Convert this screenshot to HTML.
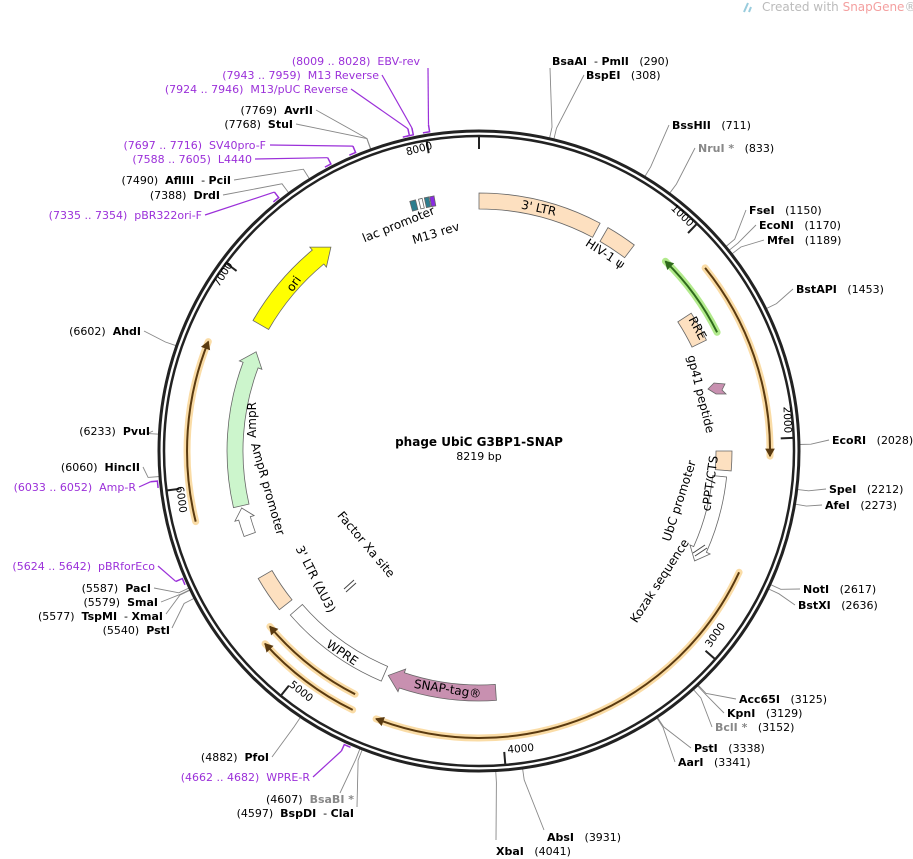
<!DOCTYPE html>
<html><head><meta charset="utf-8"><style>
html,body{margin:0;padding:0;background:#fff;width:913px;height:859px;overflow:hidden}
svg{display:block;font-family:"DejaVu Sans","Liberation Sans",sans-serif;font-size:11px}
text{white-space:pre}
.b{font-weight:bold}
.p{fill:#9b30d9}
.g{fill:#888}
</style></head><body>
<svg id="s" width="913" height="859" viewBox="0 0 913 859" xmlns="http://www.w3.org/2000/svg" xml:space="preserve">
<g id="geo"></g>
<text x="762" y="11" font-size="12" fill="#bbb">Created with <tspan fill="#f4a0a0">SnapGene</tspan>®</text>
<path d="M744 12 l4 -9 M749 12 l2 -5" stroke="#9cd" stroke-width="2"/>

<text x="479" y="446" text-anchor="middle" class="b" font-size="12">phage UbiC G3BP1-SNAP</text>
<text x="479" y="460" text-anchor="middle" font-size="11">8219 bp</text>

<polygon points="708,389 714,383 725,384 722,390 726,394 716,394" fill="#c890b0" stroke="#666" stroke-width="0.8"/>

<g>
<text x="552" y="65"><tspan class="b">BsaAI</tspan>  - <tspan class="b">PmlI</tspan>   (290)</text>
<text x="586" y="79"><tspan class="b">BspEI</tspan>   (308)</text>
<text x="672" y="129"><tspan class="b">BssHII</tspan>   (711)</text>
<text x="698" y="152"><tspan class="b g">NruI *</tspan>   (833)</text>
<text x="749" y="214"><tspan class="b">FseI</tspan>   (1150)</text>
<text x="759" y="229"><tspan class="b">EcoNI</tspan>   (1170)</text>
<text x="767" y="244"><tspan class="b">MfeI</tspan>   (1189)</text>
<text x="796" y="293"><tspan class="b">BstAPI</tspan>   (1453)</text>
<text x="832" y="444"><tspan class="b">EcoRI</tspan>   (2028)</text>
<text x="829" y="493"><tspan class="b">SpeI</tspan>   (2212)</text>
<text x="825" y="509"><tspan class="b">AfeI</tspan>   (2273)</text>
<text x="803" y="593"><tspan class="b">NotI</tspan>   (2617)</text>
<text x="798" y="609"><tspan class="b">BstXI</tspan>   (2636)</text>
<text x="739" y="703"><tspan class="b">Acc65I</tspan>   (3125)</text>
<text x="727" y="717"><tspan class="b">KpnI</tspan>   (3129)</text>
<text x="715" y="731"><tspan class="b g">BclI *</tspan>   (3152)</text>
<text x="694" y="752"><tspan class="b">PstI</tspan>   (3338)</text>
<text x="678" y="766"><tspan class="b">AarI</tspan>   (3341)</text>
<text x="547" y="841"><tspan class="b">AbsI</tspan>   (3931)</text>
<text x="496" y="855"><tspan class="b">XbaI</tspan>   (4041)</text>
</g>
<g text-anchor="end">
<text x="354" y="803">(4607)  <tspan class="b g">BsaBI *</tspan></text>
<text x="354" y="817">(4597)  <tspan class="b">BspDI</tspan>  - <tspan class="b">ClaI</tspan></text>
<text x="310" y="781" class="p">(4662 .. 4682)  WPRE-R</text>
<text x="269" y="761">(4882)  <tspan class="b">PfoI</tspan></text>
<text x="170" y="634">(5540)  <tspan class="b">PstI</tspan></text>
<text x="163" y="620">(5577)  <tspan class="b">TspMI</tspan>  - <tspan class="b">XmaI</tspan></text>
<text x="158" y="606">(5579)  <tspan class="b">SmaI</tspan></text>
<text x="151" y="592">(5587)  <tspan class="b">PacI</tspan></text>
<text x="155" y="570" class="p">(5624 .. 5642)  pBRforEco</text>
<text x="136" y="491" class="p">(6033 .. 6052)  Amp-R</text>
<text x="140" y="471">(6060)  <tspan class="b">HincII</tspan></text>
<text x="150" y="435">(6233)  <tspan class="b">PvuI</tspan></text>
<text x="141" y="335">(6602)  <tspan class="b">AhdI</tspan></text>
<text x="202" y="219" class="p">(7335 .. 7354)  pBR322ori-F</text>
<text x="220" y="199">(7388)  <tspan class="b">DrdI</tspan></text>
<text x="231" y="184">(7490)  <tspan class="b">AflIII</tspan>  - <tspan class="b">PciI</tspan></text>
<text x="252" y="163" class="p">(7588 .. 7605)  L4440</text>
<text x="266" y="149" class="p">(7697 .. 7716)  SV40pro-F</text>
<text x="293" y="128">(7768)  <tspan class="b">StuI</tspan></text>
<text x="313" y="114">(7769)  <tspan class="b">AvrII</tspan></text>
<text x="348" y="93" class="p">(7924 .. 7946)  M13/pUC Reverse</text>
<text x="379" y="79" class="p">(7943 .. 7959)  M13 Reverse</text>
<text x="420" y="65" class="p">(8009 .. 8028)  EBV-rev</text>
</g>

<g font-size="10.5">
<text transform="translate(420,152) rotate(-15)" text-anchor="middle">8000</text>
<text transform="translate(680,218) rotate(44)" text-anchor="middle">1000</text>
<text transform="translate(784,420) rotate(88)" text-anchor="middle">2000</text>
<text transform="translate(718,637) rotate(-55)" text-anchor="middle">3000</text>
<text transform="translate(521,752) rotate(-5)" text-anchor="middle">4000</text>
<text transform="translate(299,694) rotate(38)" text-anchor="middle">5000</text>
<text transform="translate(178,500) rotate(82)" text-anchor="middle">6000</text>
<text transform="translate(226,276) rotate(-58)" text-anchor="middle">7000</text>
</g>

<g font-size="12">
<text transform="translate(538,212) rotate(12)" text-anchor="middle">3' LTR</text>
<text transform="translate(603,257) rotate(33)" text-anchor="middle">HIV-1 ψ</text>
<text transform="translate(400,228) rotate(-22)" text-anchor="middle">lac promoter</text>
<text transform="translate(437,237) rotate(-17)" text-anchor="middle">M13 rev</text>
<text transform="translate(297,286) rotate(-55)" text-anchor="middle">ori</text>
<text transform="translate(694,330) rotate(62)" text-anchor="middle">RRE</text>
<text transform="translate(697,395) rotate(76)" text-anchor="middle">gp41 peptide</text>
<text transform="translate(714,484) rotate(-82)" text-anchor="middle">cPPT/CTS</text>
<text transform="translate(683,502) rotate(-72)" text-anchor="middle">UbC promoter</text>
<text transform="translate(663,583) rotate(-57)" text-anchor="middle">Kozak sequence</text>
<text transform="translate(447,693) rotate(9)" text-anchor="middle">SNAP-tag®</text>
<text transform="translate(340,656) rotate(34)" text-anchor="middle">WPRE</text>
<text transform="translate(312,581) rotate(63)" text-anchor="middle">3' LTR (ΔU3)</text>
<text transform="translate(363,547) rotate(50)" text-anchor="middle">Factor Xa site</text>
<text transform="translate(264,490) rotate(74)" text-anchor="middle">AmpR promoter</text>
<text transform="translate(256,420) rotate(-90)" text-anchor="middle">AmpR</text>
</g>
</svg>
<script>
var NS="http://www.w3.org/2000/svg",G=document.getElementById("geo"),CX=479,CY=451,N=8219;
function P(r,a){a=a*Math.PI/180;return [CX+r*Math.sin(a),CY-r*Math.cos(a)];}
function el(t,at){var e=document.createElementNS(NS,t);for(var k in at)e.setAttribute(k,at[k]);G.appendChild(e);return e;}
function s(p){return p[0].toFixed(1)+" "+p[1].toFixed(1);}
function arcD(r,a1,a2){var l=Math.abs(a2-a1)>180?1:0,sw=a2>a1?1:0;return "A"+r+" "+r+" 0 "+l+" "+sw+" "+s(P(r,a2));}
function sector(r,w,a1,a2,arrow,fill,stroke){
 var ro=r+w/2,ri=r-w/2,h=(w*0.9)/r*180/Math.PI,d;
 if(arrow==1){var b=a2-h;d="M"+s(P(ro,a1))+arcD(ro,a1,b)+"L"+s(P(ro+4,b))+"L"+s(P(r,a2))+"L"+s(P(ri-4,b))+"L"+s(P(ri,b))+arcD(ri,b,a1)+"Z";}
 else if(arrow==-1){var b=a1+h;d="M"+s(P(ro,b))+arcD(ro,b,a2)+"L"+s(P(ri,a2))+arcD(ri,a2,b)+"L"+s(P(ri-4,b))+"L"+s(P(r,a1))+"L"+s(P(ro+4,b))+"Z";}
 else d="M"+s(P(ro,a1))+arcD(ro,a1,a2)+"L"+s(P(ri,a2))+arcD(ri,a2,a1)+"Z";
 el("path",{d:d,fill:fill,stroke:stroke||"#666","stroke-width":0.8});
}
function thin(r,a1,a2,dir,glow,col){
 var en=dir==1?a2:a1,d="M"+s(P(r,a1))+arcD(r,a1,a2);
 el("path",{d:d,fill:"none",stroke:glow,"stroke-width":7,"stroke-opacity":0.6,"stroke-linecap":"round"});
 el("path",{d:d,fill:"none",stroke:col,"stroke-width":2});
 var h=7/r*180/Math.PI*(dir==1?-1:1);
 el("path",{d:"M"+s(P(r+4,en+h))+"L"+s(P(r,en))+"L"+s(P(r-4,en+h))+"Z",fill:col,stroke:col,"stroke-width":1});
}
function deg(bp){return bp/N*360;}
function site(bp,x,y,col){var a=deg(bp),p1=P(320,a),p2=P(332,a);
 el("polyline",{points:s(p1)+" "+s(p2)+" "+x+" "+y,fill:"none",stroke:col||"#888","stroke-width":0.9});}
function primer(bp,x,y){var a=deg(bp),p2=P(330,a);
 el("polyline",{points:s(p2)+" "+x+" "+y,fill:"none",stroke:"#9b30d9","stroke-width":1.2});
 el("path",{d:"M"+s(P(323,a-1.2))+"L"+s(P(323,a))+"L"+s(P(330,a)),fill:"none",stroke:"#9b30d9","stroke-width":1.5});}
var R=[[290,550,68],[308,584,75],[711,669,125],[833,695,148],[1150,746,210],[1170,756,225],[1189,764,240],[1453,793,289],[2028,829,440],[2212,826,489],[2273,822,505],[2617,800,589],[2636,795,605],[3125,736,699],[3129,724,713],[3152,712,727],[3338,691,748],[3341,675,762],[3931,544,830],[4041,496,840]];
R.forEach(function(r){site(r[0],r[1],r[2]);});
var L=[[4607,340,793],[4597,357,807],[4882,272,757],[5540,172,628],[5577,166,614],[5579,161,602],[5587,154,588],[6060,143,467],[6233,153,431],[6602,144,331],[7388,223,195],[7490,234,180],[7768,296,124],[7769,316,110]];
L.forEach(function(r){site(r[0],r[1],r[2]);});
var PR=[[4672,313,777],[5633,158,566],[6042,139,487],[7344,205,215],[7596,255,159],[7706,270,145],[7935,351,89],[7951,382,75],[8018,428,68]];
PR.forEach(function(r){primer(r[0],r[1],r[2]);});
el("circle",{cx:CX,cy:CY,r:320,fill:"none",stroke:"#222","stroke-width":3});
el("circle",{cx:CX,cy:CY,r:315,fill:"none",stroke:"#222","stroke-width":2.5});
for(var k=0;k<9;k++){var a=deg(k*1000);el("line",{x1:P(314,a)[0],y1:P(314,a)[1],x2:P(302,a)[0],y2:P(302,a)[1],stroke:"#222","stroke-width":2});}
sector(250,16,0,28,0,"#fde0c0");
sector(250,16,30,37,0,"#fde0c0");
sector(245,16,57,64,0,"#fde0c0");
sector(245,16,90,94.5,0,"#fde0c0");
sector(242,14,96,117,1,"#fff");
sector(242,16,176,202,1,"#c890b0");
sector(242,16,203,229,0,"#fff");
sector(247,16,231.5,240,0,"#fde0c0");
sector(244,12,250,256.5,1,"#fff");
sector(244,16,257,294,1,"#ccf5cc");
sector(252,18,300,324,1,"#ffff00");
sector(254,10,344.5,345.8,0,"#2d7d8e");
sector(254,10,346.5,347.3,0,"#fff");
sector(254,10,347.8,348.8,0,"#2d7d8e");
sector(254,10,349,350,0,"#8a2be2");
thin(291,51,91,1,"#f7c46a","#5a3a10");
thin(266,44.5,63.5,-1,"#7fdc3f","#2f6a1c");
thin(287,115,201,1,"#f7c46a","#5a3a10");
thin(273,207,230,1,"#f7c46a","#5a3a10");
thin(288,206,228,1,"#f7c46a","#5a3a10");
thin(292,256,292,1,"#f7c46a","#5a3a10");
el("path",{d:"M693 553 L705 545 M695 556 L707 548",stroke:"#444","stroke-width":1});
el("path",{d:"M344 589 L354 580 M346 592 L356 583",stroke:"#444","stroke-width":1});
</script>
</body></html>
